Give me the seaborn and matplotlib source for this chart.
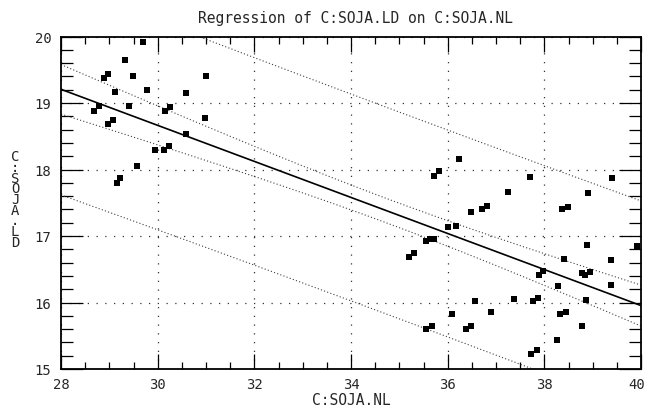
import numpy as np
import pandas as pd
import matplotlib
matplotlib.use("Agg")
import matplotlib.pyplot as plt
import matplotlib.transforms as mtransforms
import seaborn as sns
from matplotlib.ticker import MultipleLocator

# C:SOJA.NL (x) and C:SOJA.LD (y)
soja_nl = [29.69, 29.32, 28.98, 28.90, 29.49, 31.00, 29.78, 29.11, 30.58, 30.25,
           30.16, 29.41, 28.79, 28.69, 30.98, 29.07, 28.98, 30.58, 30.23, 30.14,
           29.95, 29.57, 29.23, 29.15,
           36.23, 35.83, 35.72, 36.49, 36.01, 36.17, 35.55, 35.64, 35.72, 35.30,
           35.20, 36.56, 36.08, 35.67, 35.56, 36.48, 36.38,
           37.71, 39.41, 37.24, 38.91, 36.71, 36.81, 38.36, 38.48, 38.89, 39.91,
           38.40, 39.38, 38.78, 38.84, 38.95, 37.97, 37.88, 38.29, 39.37, 37.37,
           37.76, 37.86, 38.87, 36.89, 38.33, 38.44, 38.77, 38.27, 37.73, 37.84]
soja_ld = [19.91, 19.65, 19.44, 19.37, 19.41, 19.40, 19.19, 19.16, 19.15, 18.94,
           18.88, 18.95, 18.95, 18.88, 18.78, 18.74, 18.68, 18.53, 18.35, 18.30,
           18.29, 18.05, 17.87, 17.80,
           18.16, 17.97, 17.90, 17.36, 17.13, 17.15, 16.92, 16.95, 16.95, 16.75,
           16.69, 16.03, 15.82, 15.64, 15.60, 15.64, 15.60,
           17.88, 17.87, 17.66, 17.65, 17.41, 17.45, 17.40, 17.44, 16.86, 16.85,
           16.65, 16.64, 16.45, 16.42, 16.46, 16.47, 16.41, 16.25, 16.26, 16.05,
           16.02, 16.07, 16.04, 15.85, 15.82, 15.86, 15.65, 15.44, 15.22, 15.28]

x_ticks = [28, 30, 32, 34, 36, 38, 40]
y_ticks = [15, 16, 17, 18, 19, 20]

df = pd.DataFrame({"C:SOJA.NL": soja_nl, "C:SOJA.LD": soja_ld})

# least squares fit with 95% confidence / prediction limits
x = df["C:SOJA.NL"].to_numpy()
y = df["C:SOJA.LD"].to_numpy()
n = len(x)
slope, icpt = np.polyfit(x, y, 1)
s = np.sqrt(np.sum((y - (icpt + slope * x)) ** 2) / (n - 2))
sxx = np.sum((x - x.mean()) ** 2)
try:
    from scipy import stats
    t95 = stats.t.ppf(0.975, n - 2)
except ImportError:
    t95 = 1.995

xs = np.linspace(x_ticks[0], x_ticks[-1], 300)
fit = icpt + slope * xs
ci = t95 * s * np.sqrt(1 / n + (xs - x.mean()) ** 2 / sxx)
pi = t95 * s * np.sqrt(1 + 1 / n + (xs - x.mean()) ** 2 / sxx)

sns.set_style("ticks")
plt.rcParams["font.family"] = ["DejaVu Sans Mono"]

fig = plt.figure(figsize=(6.45, 4.10), dpi=100)
ax = fig.add_axes([61 / 645, 40 / 410, 580 / 645, 332.5 / 410])

ax.plot(xs, fit, color="black", lw=1.2, zorder=2)
for band in (ci, pi):
    ax.plot(xs, fit + band, color="0.25", lw=0.8, ls=(0, (1, 2)), zorder=2)
    ax.plot(xs, fit - band, color="0.25", lw=0.8, ls=(0, (1, 2)), zorder=2)

sns.scatterplot(data=df, x="C:SOJA.NL", y="C:SOJA.LD", marker="s", s=14,
                color="black", linewidth=0, ax=ax, zorder=3)

ax.set_xlim(x_ticks[0], x_ticks[-1])
ax.set_ylim(y_ticks[0], y_ticks[-1])
ax.set_xticks(x_ticks)
ax.set_yticks(y_ticks)
ax.xaxis.set_minor_locator(MultipleLocator(0.5))
ax.yaxis.set_minor_locator(MultipleLocator(0.2))
ax.grid(True, which="major", color="0.2", lw=0.9, ls=(0, (1, 6)))

ax.tick_params(which="both", direction="in", top=True, right=True,
               color="black", labelsize=10)
ax.tick_params(axis="x", which="major", length=11, width=0.9, pad=6)
ax.tick_params(axis="x", which="minor", length=5, width=0.9)
ax.tick_params(axis="y", which="major", length=16, width=0.9, pad=7)
ax.tick_params(axis="y", which="minor", length=8.5, width=0.9)
for sp in ax.spines.values():
    sp.set_linewidth(1.3)
    sp.set_color("black")

# last x label sits right at the figure edge, nudge it in a little
last = ax.get_xticklabels()[-1]
last.set_transform(last.get_transform() +
                   mtransforms.ScaledTranslation(-4 / 100, 0, fig.dpi_scale_trans))

ax.set_xlabel("C:SOJA.NL", fontsize=10.5, va="center")
ax.xaxis.set_label_coords(0.5, -0.091)
ax.set_ylabel("C\n:\nS\nO\nJ\nA\n.\nL\nD", fontsize=10, rotation=0,
              linespacing=0.7, ha="center", va="center")
ax.yaxis.set_label_coords(-0.079, 0.511)

fig.text(0.551, 0.954, "Regression of C:SOJA.LD on C:SOJA.NL",
         ha="center", va="center", fontsize=10.5)

fig.savefig("out.png", dpi=100)
